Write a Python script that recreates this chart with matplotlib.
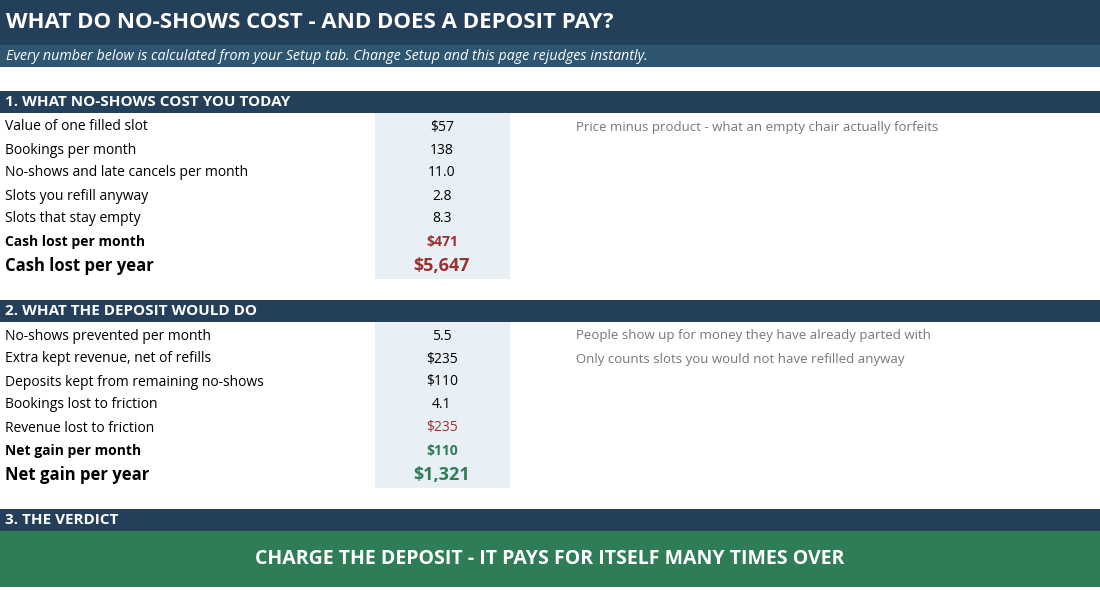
import matplotlib
matplotlib.use("Agg")
import matplotlib.pyplot as plt
from matplotlib.patches import Rectangle

plt.rcParams['font.family'] = ['Open Sans', 'DejaVu Sans']

title = "WHAT DO NO-SHOWS COST - AND DOES A DEPOSIT PAY?"
subtitle = "Every number below is calculated from your Setup tab. Change Setup and this page rejudges instantly."
sec_titles = ["1. WHAT NO-SHOWS COST YOU TODAY", "2. WHAT THE DEPOSIT WOULD DO", "3. THE VERDICT"]

s1_labels = ["Value of one filled slot", "Bookings per month", "No-shows and late cancels per month",
             "Slots you refill anyway", "Slots that stay empty", "Cash lost per month", "Cash lost per year"]
s1_values = ["$57", "138", "11.0", "2.8", "8.3", "$471", "$5,647"]
s1_notes = ["Price minus product - what an empty chair actually forfeits", "", "", "", "", "", ""]

s2_labels = ["No-shows prevented per month", "Extra kept revenue, net of refills", "Deposits kept from remaining no-shows",
             "Bookings lost to friction", "Revenue lost to friction", "Net gain per month", "Net gain per year"]
s2_values = ["5.5", "$235", "$110", "4.1", "$235", "$110", "$1,321"]
s2_notes = ["People show up for money they have already parted with",
            "Only counts slots you would not have refilled anyway", "", "", "", "", ""]

verdict = "CHARGE THE DEPOSIT - IT PAYS FOR ITSELF MANY TIMES OVER"

NAVY = "#243f5a"; TEAL = "#2f5670"; GREEN = "#2e7d57"; SHADE = "#e9f0f5"
RED = "#9b3030"; DGREEN = "#2e7d57"; GREY = "#777777"

fig = plt.figure(figsize=(11, 5.9), dpi=100)
ax = fig.add_axes([0, 0, 1, 1])
ax.set_xlim(0, 1100); ax.set_ylim(590, 0); ax.axis('off')

def rect(x, y, w, h, c):
    ax.add_patch(Rectangle((x, y), w, h, color=c, lw=0))

rect(0, 0, 1100, 45, NAVY)
ax.text(6, 23, title, color='white', fontsize=16, weight='bold', va='center', ha='left')
rect(0, 45, 1100, 22, TEAL)
ax.text(6, 56, subtitle, color='white', fontsize=10.3, style='italic', va='center')

def section(ytop, name, labels, values, notes, colors):
    rect(0, ytop, 1100, 22, NAVY)
    ax.text(5, ytop + 11, name, color='white', fontsize=11, weight='bold', va='center')
    ys = [ytop + 36 + 23 * i for i in range(6)] + [ytop + 36 + 23 * 5 + 24]
    rect(375, ytop + 22, 135, ys[-1] + 13 - (ytop + 22), SHADE)
    for i, (l, v, n) in enumerate(zip(labels, values, notes)):
        big = i == 6; bold = i >= 5
        ax.text(5, ys[i], l, fontsize=12 if big else 10, weight='bold' if bold else 'normal',
                va='center', color='black')
        ax.text(442, ys[i], v, fontsize=13 if big else 10, weight='bold' if bold else 'normal',
                va='center', ha='center', color=colors[i])
        if n:
            ax.text(576, ys[i], n, fontsize=9.5, va='center', color=GREY)

section(91, sec_titles[0], s1_labels, s1_values, s1_notes, ['black'] * 5 + [RED, RED])
section(300, sec_titles[1], s2_labels, s2_values, s2_notes, ['black'] * 4 + [RED, DGREEN, DGREEN])

rect(0, 509, 1100, 22, NAVY)
ax.text(5, 520, sec_titles[2], color='white', fontsize=11, weight='bold', va='center')
rect(0, 531, 1100, 56, GREEN)
ax.text(550, 559, verdict, color='white', fontsize=14, weight='bold', va='center', ha='center')

fig.savefig("out.png", dpi=100)
